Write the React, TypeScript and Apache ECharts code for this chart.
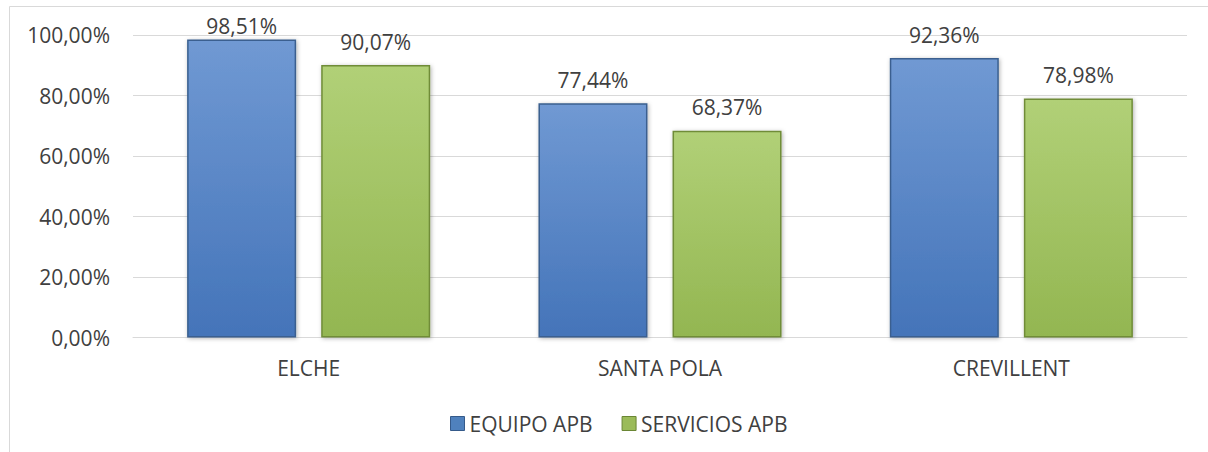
import React, { useEffect, useRef } from "react";
import * as echarts from "echarts";

const categories = ["ELCHE", "SANTA POLA", "CREVILLENT"];
const equipoAPB = [98.51, 77.44, 92.36];
const serviciosAPB = [90.07, 68.37, 78.98];
const seriesNames = ["EQUIPO APB", "SERVICIOS APB"];

const fmt = (v: number) => v.toFixed(2).replace(".", ",") + "%";
const FONT = "'Open Sans', 'Liberation Sans', sans-serif";
const TXT = "#404040";
const FS = 21;

export default function App() {
  const ref = useRef<HTMLDivElement>(null);
  useEffect(() => {
    if (!ref.current) return;
    const chart = echarts.init(ref.current, null, { renderer: "svg" });
    const blue = new echarts.graphic.LinearGradient(0, 0, 0, 1, [
      { offset: 0, color: "#7099d3" },
      { offset: 1, color: "#4474b9" },
    ]);
    const green = new echarts.graphic.LinearGradient(0, 0, 0, 1, [
      { offset: 0, color: "#b1d077" },
      { offset: 1, color: "#93b651" },
    ]);
    const labelBase = {
      show: true,
      position: "top",
      distance: 13,
      fontFamily: FONT,
      fontSize: FS,
      color: TXT,
      formatter: (p: any) => fmt(p.value),
    };
    chart.setOption({
      animation: false,
      backgroundColor: "#ffffff",
      graphic: [
        {
          type: "rect",
          shape: { x: 9.5, y: 6.5, width: 1300, height: 500 },
          style: { fill: "none", stroke: "#d9d9d9", lineWidth: 1 },
          silent: true,
          z: -1,
        },
      ],
      grid: { left: 133, right: 21, top: 35, bottom: 114.5 },
      legend: {
        top: 408,
        left: 445,
        itemWidth: 14,
        itemHeight: 14,
        itemGap: 29,
        textStyle: { fontFamily: FONT, fontSize: FS, color: TXT },
        data: [
          { name: seriesNames[0], icon: "rect", itemStyle: { color: "#4f81bd", borderColor: "#355a8a", borderWidth: 1 } },
          { name: seriesNames[1], icon: "rect", itemStyle: { color: "#9bbb59", borderColor: "#6a8634", borderWidth: 1 } },
        ],
      },
      xAxis: {
        type: "category",
        data: categories,
        axisLine: { lineStyle: { color: "#d9d9d9", width: 1 } },
        axisTick: { show: false },
        axisLabel: { fontFamily: FONT, fontSize: FS, color: TXT, margin: 20 },
      },
      yAxis: {
        type: "value",
        min: 0,
        max: 100,
        interval: 20,
        axisLine: { show: false },
        axisTick: { show: false },
        splitLine: { lineStyle: { color: "#d9d9d9", width: 1 } },
        axisLabel: {
          fontFamily: FONT,
          fontSize: FS,
          color: TXT,
          margin: 23,
          formatter: (v: number) => fmt(v),
        },
      },
      series: [
        {
          name: seriesNames[0],
          type: "bar",
          data: equipoAPB.map((v, i) =>
            i === 0 ? { value: v, label: { distance: 3 } } : v
          ),
          barWidth: 109,
          barGap: "23%",
          itemStyle: {
            color: blue,
            borderColor: "#3a5f8f",
            borderWidth: 1.5,
            shadowColor: "rgba(0,0,0,0.3)",
            shadowBlur: 4,
            shadowOffsetX: 1,
            shadowOffsetY: 1,
          },
          label: labelBase,
        },
        {
          name: seriesNames[1],
          type: "bar",
          data: serviciosAPB,
          barWidth: 109,
          itemStyle: {
            color: green,
            borderColor: "#6f8c38",
            borderWidth: 1.5,
            shadowColor: "rgba(0,0,0,0.3)",
            shadowBlur: 4,
            shadowOffsetX: 1,
            shadowOffsetY: 1,
          },
          label: labelBase,
        },
      ],
    });
    return () => chart.dispose();
  }, []);
  return (
    <div
      ref={ref}
      style={{ position: "fixed", left: 0, top: 0, width: 1208, height: 452 }}
    />
  );
}
